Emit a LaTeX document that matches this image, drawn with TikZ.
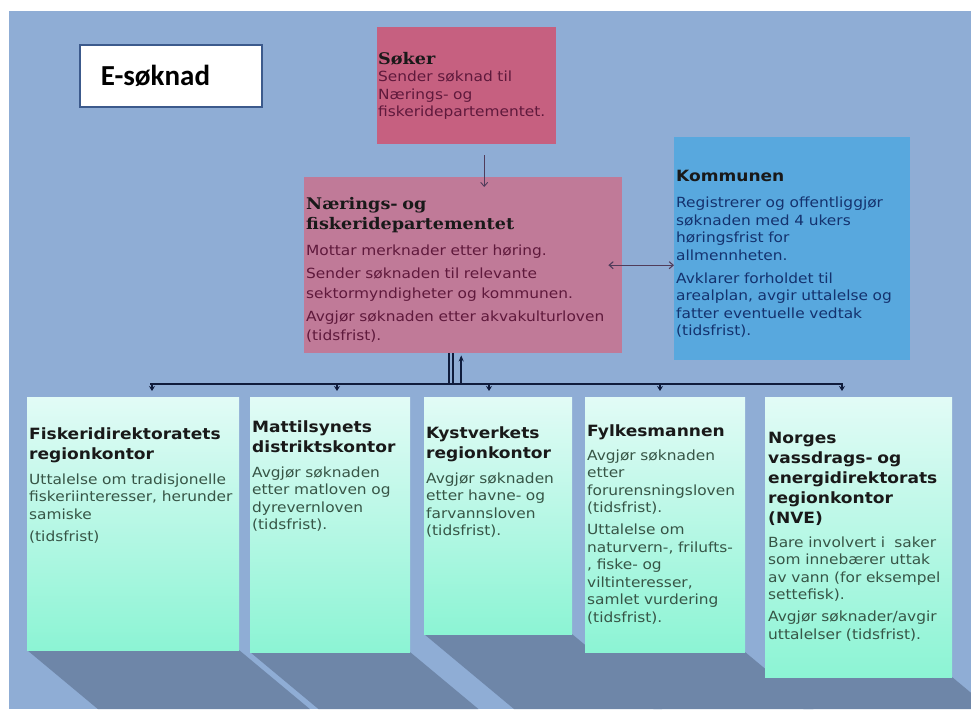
\documentclass[tikz,border=0pt]{standalone}
\usepackage{fontspec}
\setmainfont[FakeStretch=1.1]{DejaVu Sans}
\newfontfamily\seriffam[FakeStretch=1.1]{DejaVu Serif}
\newfontfamily\titlefam{Carlito}
\usetikzlibrary{arrows.meta,positioning,calc}

\definecolor{bgblue}{RGB}{143,173,213}
\definecolor{shadowblue}{RGB}{110,134,168}
\definecolor{sokerred}{RGB}{198,96,128}
\definecolor{depmauve}{RGB}{192,122,152}
\definecolor{komblue}{RGB}{88,168,222}
\definecolor{mintlight}{RGB}{226,251,246}
\definecolor{mintdark}{RGB}{140,244,212}
\definecolor{linenavy}{RGB}{16,28,60}
\definecolor{arrowgray}{RGB}{80,60,90}
\definecolor{esokborder}{RGB}{60,90,140}
\definecolor{redtext}{RGB}{95,25,60}
\definecolor{bluetext}{RGB}{20,50,110}
\definecolor{greentext}{RGB}{55,85,70}

\setlength{\parindent}{0pt}
\newcommand{\hdsans}{\color{black!90}\bfseries\fontsize{15.5}{20}\selectfont}
\newcommand{\hdserif}{\color{black!90}\seriffam\bfseries\fontsize{16}{20}\selectfont}
\newcommand{\bodytext}[1][17.5]{\fontsize{14}{#1}\selectfont}
\newcommand{\gap}[1][4.5pt]{\par\vspace{#1}}

\tikzset{
  panel/.style={rectangle, inner sep=0pt, anchor=north west},
  mintbox/.style={panel, top color=mintlight, bottom color=mintdark},
  txt/.style={inner sep=0pt, anchor=north west, align=left, font=\bodytext},
  barline/.style={linenavy, line width=2.4pt},
  tickarrow/.style={linenavy, line width=1.2pt, -{Stealth[length=5pt,width=6pt]}},
  link/.style={arrowgray, line width=0.9pt, -{Straight Barb[length=4pt,width=7pt]}},
  twolink/.style={arrowgray, line width=1.1pt, {Straight Barb[length=4pt,width=7pt]}-{Straight Barb[length=4pt,width=7pt]}}
}

\begin{document}
\begin{tikzpicture}[x=1pt, y=-1pt]
  \useasboundingbox (0,0) rectangle (971,709);
  \fill[bgblue] (9,11) rectangle (971,709);

  % top row
  \node[panel, draw=esokborder, line width=1.8pt, fill=white, minimum width=182pt,
        minimum height=62pt, text width=140pt, inner xsep=21pt, align=left,
        font=\titlefam\bfseries\fontsize{29}{32}\selectfont] (esok) at (79,44) {E-søknad};
  \node[panel, fill=sokerred, minimum width=179pt, minimum height=117pt] (soker) at (377,27) {};
  \node[panel, fill=depmauve, minimum width=318pt, minimum height=176pt] (dep) at (304,177) {};
  \node[panel, fill=komblue, minimum width=236pt, minimum height=223pt] (kom) at (674,137) {};

  \node[txt, text=redtext, text width=190pt] (soker txt) at ([shift={(1,25)}]soker.north west)
    {{\hdserif Søker\par}
     Sender søknad til\\ Nærings- og\\ fiskeridepartementet.};
  \node[txt, text=redtext, text width=330pt, font={\bodytext[19.5]}] (dep txt) at ([shift={(2,20)}]dep.north west)
    {{\hdserif Nærings- og\\ fiskeridepartementet\par}\vspace{7pt}
     Mottar merknader etter høring.\gap[3.5pt]
     Sender søknaden til relevante\\ sektormyndigheter og kommunen.\gap[3.5pt]
     Avgjør søknaden etter akvakulturloven\\ (tidsfrist).};
  \node[txt, text=bluetext, text width=250pt] (kom txt) at ([shift={(2,33)}]kom.north west)
    {{\hdsans Kommunen\par}\vspace{8.5pt}
     Registrerer og offentliggjør\\ søknaden med 4 ukers\\ høringsfrist for\\ allmennheten.\gap[5.5pt]
     Avklarer forholdet til\\ arealplan, avgir uttalelse og\\ fatter eventuelle vedtak\\ (tidsfrist).};

  \draw[link] ([xshift=17.5pt,yshift=-11pt]soker.south) -- ([xshift=17.5pt,yshift=-10pt]soker.south |- dep.north);
  \draw[twolink] ([xshift=-14pt]dep.east) -- (dep.east -| kom.west);

  % bottom row with floor shadows
  \foreach \n/\xl/\xr/\yb in {fdir/27/239/650, mattil/250/410/652, kyst/424/572/634,
                              fylke/585/745/652, nve/765/952/677}{
    \pgfmathsetmacro\w{\xr-\xl}
    \pgfmathsetmacro\h{\yb-397}
    \pgfmathsetmacro\dx{1.2*(709-\yb)}
    \fill[shadowblue] (\xl,\yb) -- (\xr,\yb) -- (\xr+\dx,709) -- (\xl+\dx,709) -- cycle;
    \node[mintbox, minimum width=\w pt, minimum height=\h pt] (\n) at (\xl,397) {};
  }

  \node[txt, text=greentext, text width=230pt] (fdir txt) at ([shift={(2,31)}]fdir.north west)
    {{\hdsans Fiskeridirektoratets\\ regionkontor\par}\vspace{7pt}
     Uttalelse om tradisjonelle\\ fiskeriinteresser, herunder\\ samiske\gap
     (tidsfrist)};
  \node[txt, text=greentext, text width=180pt] (mattil txt) at ([shift={(2,24)}]mattil.north west)
    {{\hdsans Mattilsynets\\ distriktskontor\par}\vspace{7pt}
     Avgjør søknaden\\ etter matloven og\\ dyrevernloven\\ (tidsfrist).};
  \node[txt, text=greentext, text width=170pt] (kyst txt) at ([shift={(2,30)}]kyst.north west)
    {{\hdsans Kystverkets\\ regionkontor\par}\vspace{7pt}
     Avgjør søknaden\\ etter havne- og\\ farvannsloven\\ (tidsfrist).};
  \node[txt, text=greentext, text width=180pt] (fylke txt) at ([shift={(2,28)}]fylke.north west)
    {{\hdsans Fylkesmannen\par}\vspace{6pt}
     Avgjør søknaden\\ etter\\ forurensningsloven\\ (tidsfrist).\gap
     Uttalelse om\\ naturvern-, frilufts-\\ , fiske- og\\ viltinteresser,\\ samlet vurdering\\ (tidsfrist).};
  \node[txt, text=greentext, text width=210pt] (nve txt) at ([shift={(3,35)}]nve.north west)
    {{\hdsans Norges\\ vassdrags- og\\ energidirektorats\\ regionkontor\\ (NVE)\par}\vspace{6pt}
     Bare involvert i\ \ saker\\ som innebærer uttak\\ av vann (for eksempel\\ settefisk).\gap
     Avgjør søknader/avgir\\ uttalelser (tidsfrist).};

  % connector bar
  \coordinate (bar w) at (150,384);
  \coordinate (bar e) at (843,384);
  \draw[barline] (bar w) -- (bar e);
  \draw[barline] ([xshift=-14pt]dep.south) -- ([xshift=-14pt]dep.south |- bar w);
  \draw[barline] ([xshift=-10pt]dep.south) -- ([xshift=-10pt]dep.south |- bar w);
  \draw[barline, line width=1.6pt, -{Stealth[length=6pt,width=5pt]}] ([xshift=-2pt]dep.south |- bar w) -- ([xshift=-2pt,yshift=-2pt]dep.south);
  \foreach \dx in {2,187,339,510,692}
    \draw[tickarrow] ([xshift=\dx pt]bar w) -- ++(0,7);
\end{tikzpicture}
\end{document}
